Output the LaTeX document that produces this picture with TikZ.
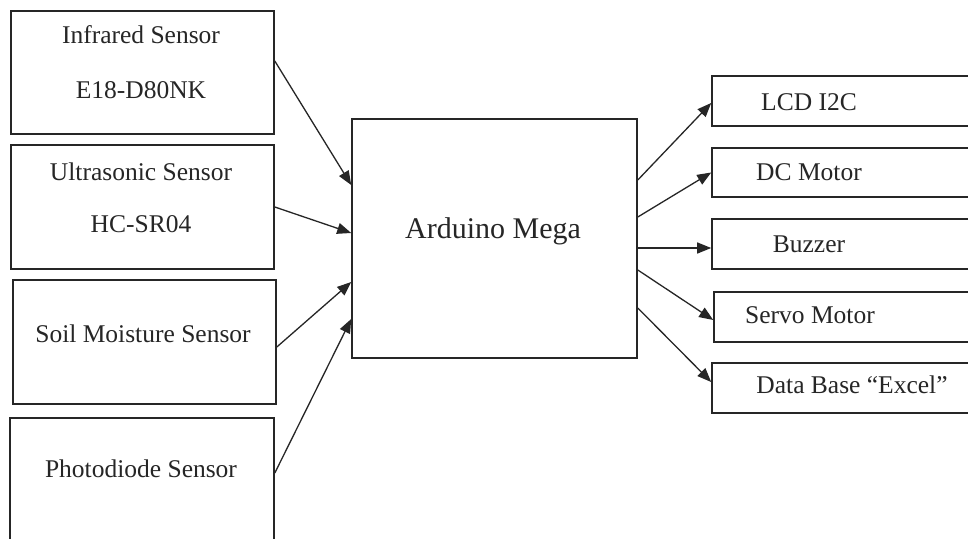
\documentclass[tikz,border=0pt]{standalone}
\usepackage{fontspec}
\setmainfont{Liberation Serif}
\usetikzlibrary{arrows.meta}
\begin{document}
\begin{tikzpicture}[x=1pt,y=-1pt,
  box/.style={draw=black!85, line width=1.6pt, rectangle, inner sep=0pt},
  lbl/.style={anchor=base, inner sep=0pt, font=\fontsize{25.5}{30}\selectfont, text=black!85},
  big/.style={anchor=base, inner sep=0pt, font=\fontsize{30}{36}\selectfont, text=black!85},
  conn/.style={draw=black!85, line width=1.3pt, -{Triangle[length=14pt,width=11pt]}}]
\clip (0,0) rectangle (968,538);
\fill[white] (0,0) rectangle (968,538);
% input boxes
\node[box, minimum width=263pt, minimum height=123pt] (ir) at (142.5,72.5) {};
\node[box, minimum width=263pt, minimum height=124pt] (us) at (142.5,207) {};
\node[box, minimum width=263pt, minimum height=124pt] (soil) at (144.5,342) {};
\node[box, minimum width=264pt, minimum height=142pt] (photo) at (142,489) {};
% Arduino
\node[box, minimum width=285pt, minimum height=239pt] (ard) at (494.5,238.5) {};
% output boxes
\node[box, minimum width=290pt, minimum height=50pt] (lcd) at (857,101) {};
\node[box, minimum width=290pt, minimum height=49pt] (dc) at (857,172.5) {};
\node[box, minimum width=290pt, minimum height=50pt] (buz) at (857,244) {};
\node[box, minimum width=288pt, minimum height=50pt] (servo) at (858,317) {};
\node[box, minimum width=290pt, minimum height=50pt] (db) at (857,388) {};
% texts
\node[lbl] (t1) at (141,43) {Infrared Sensor};
\node[lbl] (t2) at (141,98) {E18-D80NK};
\node[lbl] (t3) at (141,180) {Ultrasonic Sensor};
\node[lbl] (t4) at (141,232) {HC-SR04};
\node[lbl] (t5) at (143,342) {Soil Moisture Sensor};
\node[lbl] (t6) at (141,477) {Photodiode Sensor};
\node[big] (t7) at (493,238) {Arduino Mega};
\node[lbl] (t8) at (809,110) {LCD I2C};
\node[lbl] (t9) at (809,180) {DC Motor};
\node[lbl] (t10) at (809,252) {Buzzer};
\node[lbl] (t11) at (810,323) {Servo Motor};
\node[lbl] (t12) at (852,393) {Data Base “Excel”};
% connectors in
\draw[conn] ([yshift=11.5pt]ir.east) -- ([yshift=53.5pt]ard.west);
\draw[conn] (us.east) -- ([yshift=5.5pt]ard.west);
\draw[conn] ([yshift=-5pt]soil.east) -- ([yshift=-43.5pt]ard.west);
\draw[conn] ([yshift=16pt]photo.east) -- ([yshift=-80.5pt]ard.west);
% connectors out
\draw[conn] ([yshift=58.5pt]ard.east) -- ([yshift=-2pt]lcd.west);
\draw[conn] ([yshift=21.5pt]ard.east) -- (dc.west);
\draw[conn] ([yshift=-9.5pt]ard.east) -- ([yshift=-4pt]buz.west);
\draw[conn] ([yshift=-31.5pt]ard.east) -- ([yshift=-3pt]servo.west);
\draw[conn] ([yshift=-69.5pt]ard.east) -- ([yshift=6pt]db.west);
\end{tikzpicture}
\end{document}
